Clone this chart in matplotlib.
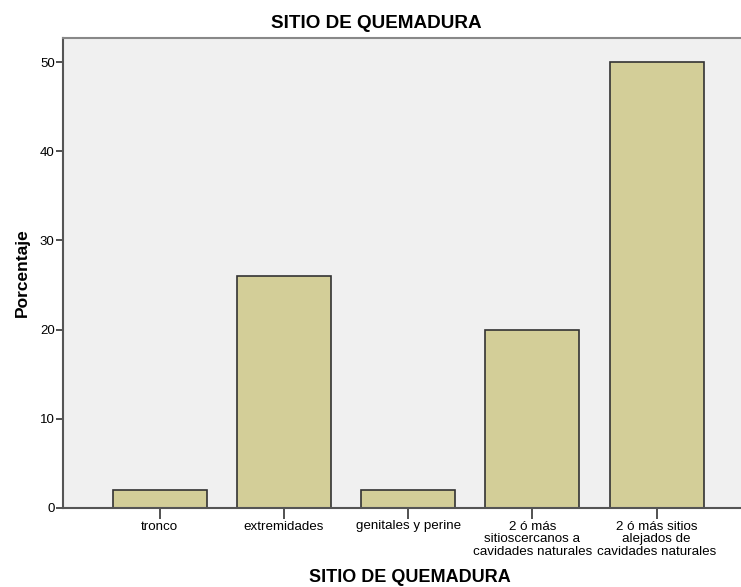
import matplotlib
matplotlib.use("Agg")
import matplotlib.pyplot as plt

categories = ["tronco", "extremidades", "genitales y perine",
              "2 ó más\nsitioscercanos a\ncavidades naturales",
              "2 ó más sitios\nalejados de\ncavidades naturales"]
values = [2, 26, 2, 20, 50]
yticks = [0, 10, 20, 30, 40, 50]

plt.rcParams['font.family'] = ['Liberation Sans', 'DejaVu Sans']

fig = plt.figure(figsize=(7.41, 5.87), dpi=100)
ax = fig.add_axes([63/741, 79/587, 1 - 63/741, (508-38)/587])
ax.set_facecolor("#F0F0F0")
x = list(range(len(categories)))
ax.bar(x, values, width=0.757, color="#D3CE98", edgecolor="#333333", linewidth=1.2, zorder=2)
ax.set_xlim(-0.78, 4.68)
ax.set_ylim(0, 52.7)
ax.set_yticks(yticks)
ax.set_xticks(x)
ax.set_xticklabels(categories, fontsize=9.6, linespacing=1.1)
ax.tick_params(axis='y', length=5, width=1.2, color="#333333", labelsize=9.5, pad=1)
ax.tick_params(axis='x', length=8, width=1.2, color="#333333", pad=1)
for s in ["left", "bottom"]:
    ax.spines[s].set_color("#555555")
    ax.spines[s].set_linewidth(1.5)
ax.spines["top"].set_color("#888888")
ax.spines["top"].set_linewidth(1.5)
ax.spines["right"].set_visible(False)
ax.set_ylabel("Porcentaje", fontsize=12.5, fontweight='bold', labelpad=7)
fig.text(376/741, 1 - 23/587, "SITIO DE QUEMADURA", ha='center', va='center',
         fontsize=13.6, fontweight='bold')
fig.text(410/741, 1 - 577/587, "SITIO DE QUEMADURA", ha='center', va='center',
         fontsize=13, fontweight='bold')
fig.savefig("out.png", dpi=100)
